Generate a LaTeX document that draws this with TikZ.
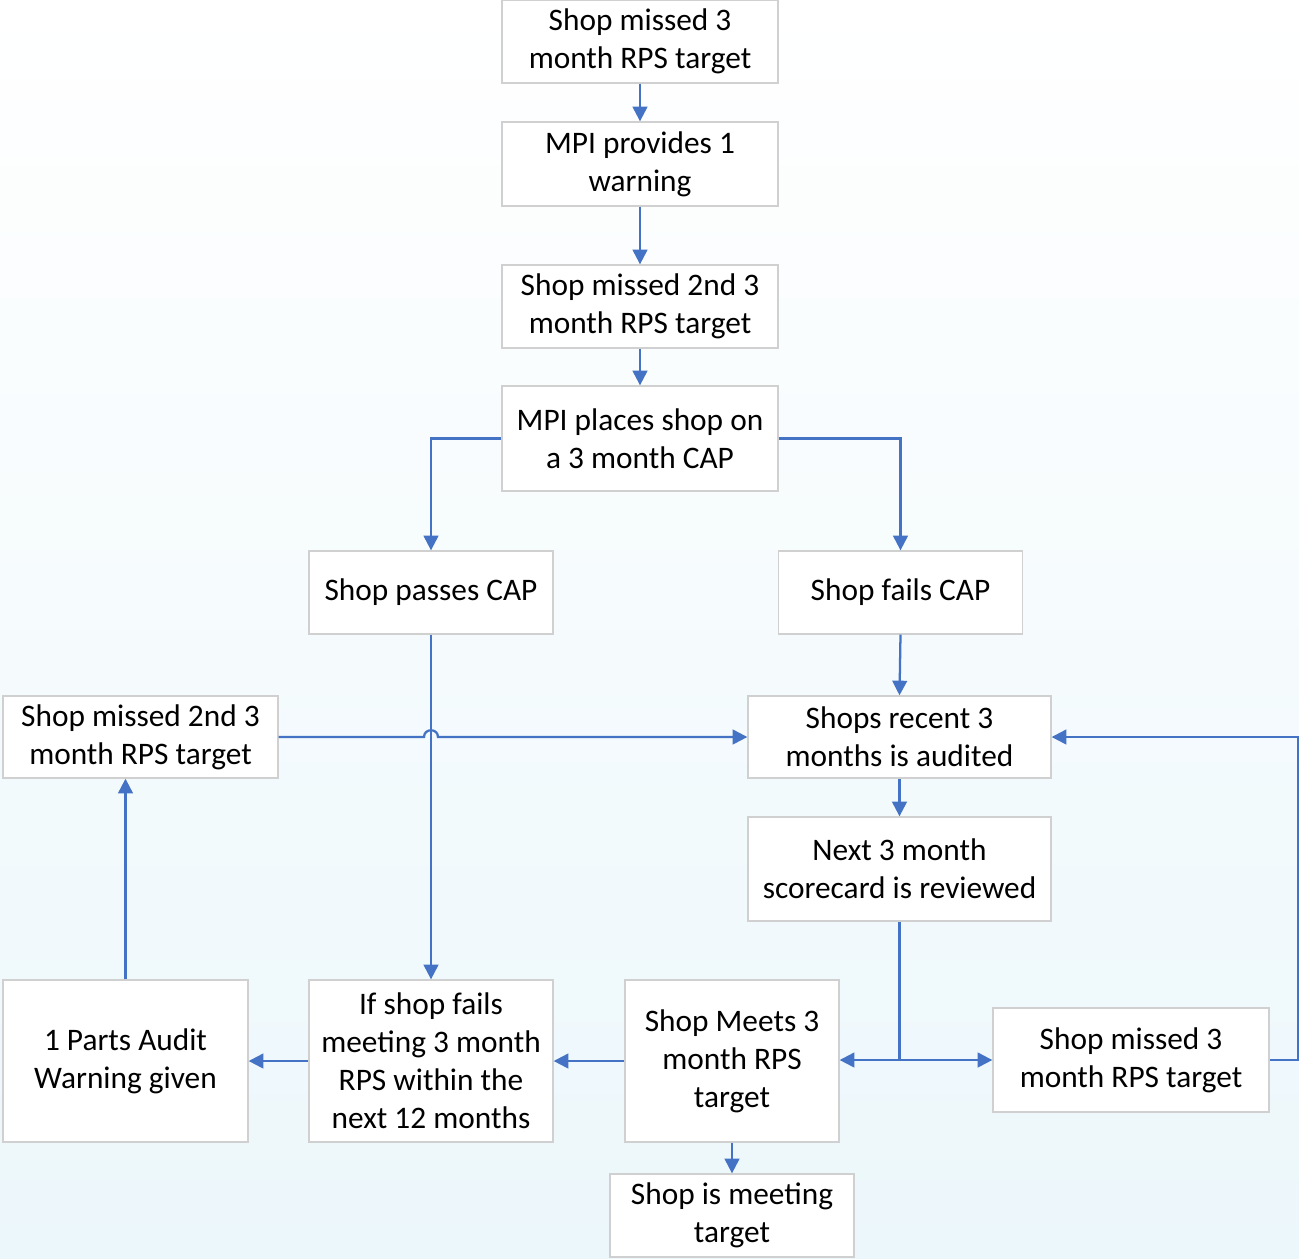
\documentclass[tikz,border=0pt]{standalone}
\usepackage{fontspec}
\setmainfont{Carlito}
\usetikzlibrary{arrows.meta}
\definecolor{lineblue}{RGB}{68,114,196}
\definecolor{boxgray}{RGB}{208,208,208}
\definecolor{bgblue}{RGB}{236,247,251}
\begin{document}
\begin{tikzpicture}[x=0.75pt,y=-0.75pt,
  box/.style={draw=boxgray,line width=1pt,fill=white,inner sep=0pt,align=center,
    font=\fontsize{23.5pt}{28.5pt}\selectfont},
  conn/.style={draw=lineblue,line width=1.7pt},
  arr/.style={conn,-{Triangle[length=11pt,width=11pt]}}]
\fill[top color=white,bottom color=bgblue] (0,0) rectangle (1299,1258);
\useasboundingbox (0,0) rectangle (1299,1258);

\node[box,minimum width=207pt,minimum height=62.25pt] (n1) at (640,41.5) {Shop missed 3\\month RPS target};
\node[box,minimum width=207pt,minimum height=63pt] (n2) at (640,164) {MPI provides 1\\warning};
\node[box,minimum width=207pt,minimum height=62.25pt] (n3) at (640,306.5) {Shop missed 2nd 3\\month RPS target};
\node[box,minimum width=207pt,minimum height=78.75pt] (n4) at (640,438.5) {MPI places shop on\\a 3 month CAP};
\node[box,minimum width=183pt,minimum height=62.25pt] (n5) at (431,592.5) {Shop passes CAP};
\node[box,minimum width=183pt,minimum height=62.25pt] (n6) at (900.5,592.5) {Shop fails CAP};
\node[box,minimum width=206.25pt,minimum height=61.5pt] (n7) at (140.5,737) {Shop missed 2nd 3\\month RPS target};
\node[box,minimum width=227.25pt,minimum height=61.5pt] (n8) at (899.5,737) {Shops recent 3\\months is audited};
\node[box,minimum width=227.25pt,minimum height=78pt] (n9) at (899.5,869) {Next 3 month\\scorecard is reviewed};
\node[box,minimum width=183.75pt,minimum height=121.5pt] (n10) at (125.5,1061) {1 Parts Audit\\Warning given};
\node[box,minimum width=183pt,minimum height=121.5pt] (n11) at (431,1061) {If shop fails\\meeting 3 month\\RPS within the\\next 12 months};
\node[box,minimum width=160.5pt,minimum height=121.5pt] (n12) at (732,1061) {Shop Meets 3\\month RPS\\target};
\node[box,minimum width=207pt,minimum height=78pt] (n13) at (1131,1060) {Shop missed 3\\month RPS target};
\node[box,minimum width=183pt,minimum height=62.25pt] (n14) at (732,1215.5) {Shop is meeting\\target};

\draw[arr] (n1) -- (n2);
\draw[arr] (n2) -- (n3);
\draw[arr] (n3) -- (n4);
\draw[arr] (n4.west) -| (n5.north);
\draw[arr] (n4.east) -| (n6.north);
\draw[arr] (n6.south) -- (n8.north);
\draw[arr] (n8) -- (n9);
\draw[arr] (n5.south) -- (n11.north);
\coordinate (j1) at (424,737);
\coordinate (j2) at (438,737);
\draw[arr] (n7.east) -- (j1) .. controls (424,728) and (438,728) .. (j2) -- (n8.west);
\coordinate (sp) at (899.5,1060);
\draw[conn] (n9.south) -- (sp);
\draw[arr] (sp) -- (sp -| n12.east);
\draw[arr] (sp) -- (n13.west);
\coordinate (r1) at (1298,1060);
\coordinate (r2) at (1298,737);
\draw[arr] (n13.east) -- (r1) -- (r2) -- (n8.east);
\draw[arr] (n12.west) -- (n11.east);
\draw[arr] (n11.west) -- (n10.east);
\draw[arr] (n10.north) -- (n10.north |- n7.south);
\draw[arr] (n12.south) -- (n14.north);
\end{tikzpicture}
\end{document}
